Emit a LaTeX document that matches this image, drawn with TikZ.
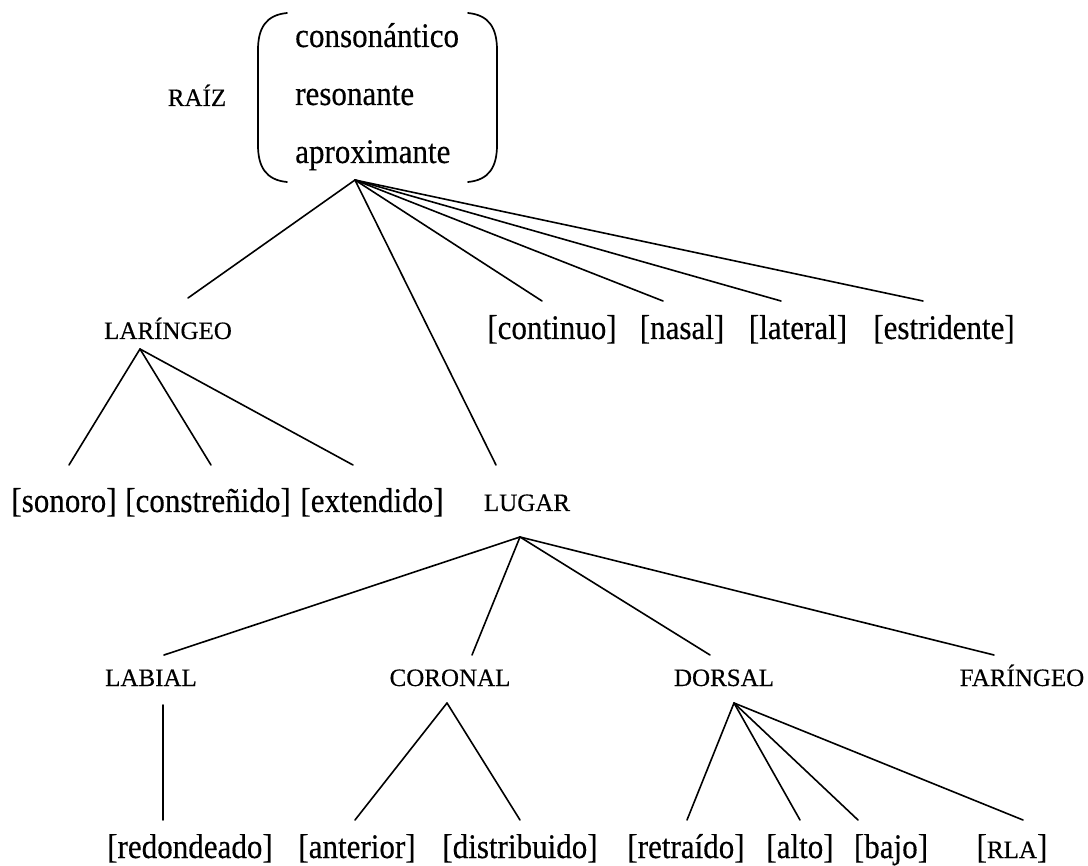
\documentclass[tikz,border=0pt]{standalone}
\usepackage{fontspec}
\setmainfont[FakeStretch=0.9,FakeBold=0.35]{Liberation Serif}
\newfontfamily\capsfam[FakeBold=0.35]{Liberation Serif}
\newcommand{\featsize}{\fontsize{34.5}{40}\selectfont}
\newcommand{\smcaps}[1]{{\capsfam\fontsize{25}{30}\selectfont #1}}
\begin{document}
\begin{tikzpicture}[x=1pt, y=-1pt,
  feat/.style={font=\featsize, anchor=base, inner sep=0pt},
  cat/.style={font=\capsfam\fontsize{25}{30}\selectfont, anchor=base, inner sep=0pt},
  branch/.style={line width=1.6pt, line cap=round},
  paren/.style={line width=1.7pt, line cap=round}]
\useasboundingbox (0,0) rectangle (1088,866);

% root node with its feature matrix
\node[cat] (raiz) at (197,106) {RAÍZ};
\node[feat, anchor=base west] (cons) at (295,47) {consonántico};
\node[feat, anchor=base west] (reso) at (295,105) {resonante};
\node[feat, anchor=base west] (aprox) at (295,163) {aproximante};
\draw[paren] (287,13) .. controls (266,15) and (258,28) .. (258,50)
  -- (258,145) .. controls (258,167) and (266,180) .. (287,182);
\draw[paren] (468,13) .. controls (489,15) and (497,28) .. (497,50)
  -- (497,145) .. controls (497,167) and (489,180) .. (468,182);
\coordinate (raiz-b) at (355,180);

% second tier
\node[cat] (laringeo) at (168,339) {LARÍNGEO};
\node[feat] (continuo) at (552,339) {[continuo]};
\node[feat] (nasal) at (682,339) {[nasal]};
\node[feat] (lateral) at (798,339) {[lateral]};
\node[feat] (estridente) at (944,339) {[estridente]};
\coordinate (laringeo-t) at (188,298);
\coordinate (continuo-t) at (542,301);
\coordinate (nasal-t) at (663,301);
\coordinate (lateral-t) at (781,301);
\coordinate (estridente-t) at (923,301);
\coordinate (laringeo-b) at (140,349);

% third tier
\node[feat] (sonoro) at (64,512) {[sonoro]};
\node[feat] (constr) at (208,512) {[constreñido]};
\node[feat] (extend) at (372,512) {[extendido]};
\node[cat] (lugar) at (527,511) {LUGAR};
\coordinate (sonoro-t) at (69,465);
\coordinate (constr-t) at (211,465);
\coordinate (extend-t) at (353,465);
\coordinate (lugar-t) at (496,465);
\coordinate (lugar-b) at (520,537);

% articulators
\node[cat] (labial) at (151,686) {LABIAL};
\node[cat] (coronal) at (450,686) {CORONAL};
\node[cat] (dorsal) at (724,686) {DORSAL};
\node[cat] (faringeo) at (1022,686) {FARÍNGEO};
\coordinate (labial-t) at (164,655);
\coordinate (coronal-t) at (472,655);
\coordinate (dorsal-t) at (710,655);
\coordinate (faringeo-t) at (994,655);
\coordinate (labial-b) at (163,705);
\coordinate (coronal-b) at (447,703);
\coordinate (dorsal-b) at (734,703);

% terminal features
\node[feat] (redond) at (190,858) {[redondeado]};
\node[feat] (anterior) at (357,858) {[anterior]};
\node[feat] (distrib) at (520,858) {[distribuido]};
\node[feat] (retraido) at (686,858) {[retraído]};
\node[feat] (alto) at (800,858) {[alto]};
\node[feat] (bajo) at (891,858) {[bajo]};
\node[feat] (rla) at (1012,858) {[\smcaps{RLA}]};
\coordinate (redond-t) at (163,820);
\coordinate (anterior-t) at (355,820);
\coordinate (distrib-t) at (520,820);
\coordinate (retraido-t) at (687,820);
\coordinate (alto-t) at (800,820);
\coordinate (bajo-t) at (858,820);
\coordinate (rla-t) at (1023,820);

% branches
\foreach \c in {laringeo-t,lugar-t,continuo-t,nasal-t,lateral-t,estridente-t}
  \draw[branch] (raiz-b) -- (\c);
\foreach \c in {sonoro-t,constr-t,extend-t}
  \draw[branch] (laringeo-b) -- (\c);
\foreach \c in {labial-t,coronal-t,dorsal-t,faringeo-t}
  \draw[branch] (lugar-b) -- (\c);
\draw[branch] (labial-b) -- (redond-t);
\foreach \c in {anterior-t,distrib-t}
  \draw[branch] (coronal-b) -- (\c);
\foreach \c in {retraido-t,alto-t,bajo-t,rla-t}
  \draw[branch] (dorsal-b) -- (\c);
\end{tikzpicture}
\end{document}
